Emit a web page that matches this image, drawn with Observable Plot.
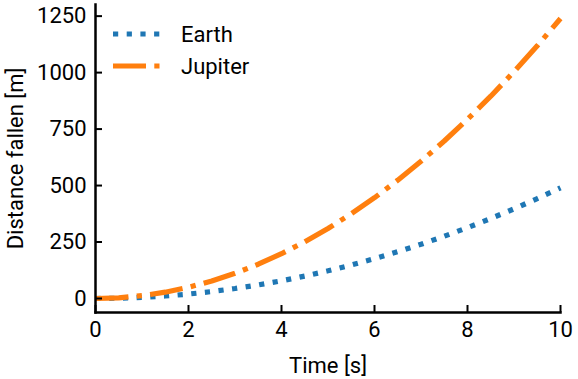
<!DOCTYPE html>
<html><head><meta charset="utf-8">
<script src="https://cdn.jsdelivr.net/npm/d3@7"></script>
<script src="https://cdn.jsdelivr.net/npm/@observablehq/plot@0.6"></script>
<style>
html,body{margin:0;padding:0;background:#fff;}
#wrap{position:relative;width:578px;height:379px;font-family:Roboto,sans-serif;}
#legend{position:absolute;left:0;top:0;}
</style></head>
<body><div id="wrap"></div>
<script>
const time = [0,0.5,1,1.5,2,2.5,3,3.5,4,4.5,5,5.5,6,6.5,7,7.5,8,8.5,9,9.5,10];
const earth = [0,1.2,4.9,11.0,19.6,30.6,44.1,60.0,78.4,99.2,122.5,148.2,176.4,207.0,240.1,275.6,313.6,354.0,396.9,442.2,490.0];
const jupiter = [0,3.1,12.4,27.9,49.6,77.5,111.6,151.8,198.3,251.0,309.9,374.9,446.2,523.7,607.4,697.2,793.3,895.5,1004.0,1118.6,1239.5];
const seriesNames = ["Earth","Jupiter"];
const colors = ["#1f77b4","#ff7f0e"];
const dashes = ["5.2,8.5","33,8.3,5.2,8.3"];
const xTicks = [0,2,4,6,8,10];
const yTicks = [0,250,500,750,1000,1250];

const rowsE = time.map((t,i)=>({t, d: earth[i], s: "Earth"}));
const rowsJ = time.map((t,i)=>({t, d: jupiter[i], s: "Jupiter"}));

const chart = Plot.plot({
  width: 578, height: 379,
  marginLeft: 95, marginRight: 18, marginTop: 4, marginBottom: 67,
  style: {fontFamily: "Roboto, sans-serif", fontSize: "22px", color: "#000", background: "#fff"},
  x: {domain: [0,10], label: null},
  y: {domain: [-62, 1301.5], label: null},
  marks: [
    Plot.line(rowsE, {x:"t", y:"d", stroke: colors[0], strokeWidth: 5.2, strokeDasharray: dashes[0], strokeLinecap: "butt", strokeLinejoin: "miter"}),
    Plot.line(rowsJ, {x:"t", y:"d", stroke: colors[1], strokeWidth: 5.2, strokeDasharray: dashes[1], strokeLinecap: "butt", strokeLinejoin: "miter"}),
    Plot.axisX(xTicks, {tickSize: -7, tickPadding: 16, fontSize: 22, strokeWidth: 2, tickFormat: d3.format("d"), label: "Time [s]", labelArrow: "none", labelAnchor: "center", labelOffset: 60}),
    Plot.axisY(yTicks, {tickSize: -7, tickPadding: 16, fontSize: 22, strokeWidth: 2, tickFormat: d3.format("d"), label: "Distance fallen [m]", labelArrow: "none", labelAnchor: "center", labelOffset: 88}),
    Plot.frame({anchor: "left", strokeWidth: 2.5}),
    Plot.frame({anchor: "bottom", strokeWidth: 2.5})
  ]
});
document.getElementById("wrap").appendChild(chart);

// legend
const ns = "http://www.w3.org/2000/svg";
const lg = document.createElementNS(ns, "svg");
lg.setAttribute("id","legend");
lg.setAttribute("width", 578); lg.setAttribute("height", 379);
lg.style.pointerEvents = "none";
seriesNames.forEach((name,i)=>{
  const y = 34 + i*32;
  const l = document.createElementNS(ns,"line");
  l.setAttribute("x1",113); l.setAttribute("x2",161);
  l.setAttribute("y1",y); l.setAttribute("y2",y);
  l.setAttribute("stroke",colors[i]); l.setAttribute("stroke-width",5.2);
  l.setAttribute("stroke-dasharray",dashes[i]);
  lg.appendChild(l);
  const t = document.createElementNS(ns,"text");
  t.setAttribute("x",181); t.setAttribute("y",y+8);
  t.setAttribute("font-family","Roboto, sans-serif"); t.setAttribute("font-size",22);
  t.textContent = name;
  lg.appendChild(t);
});
document.getElementById("wrap").appendChild(lg);
</script></body></html>
